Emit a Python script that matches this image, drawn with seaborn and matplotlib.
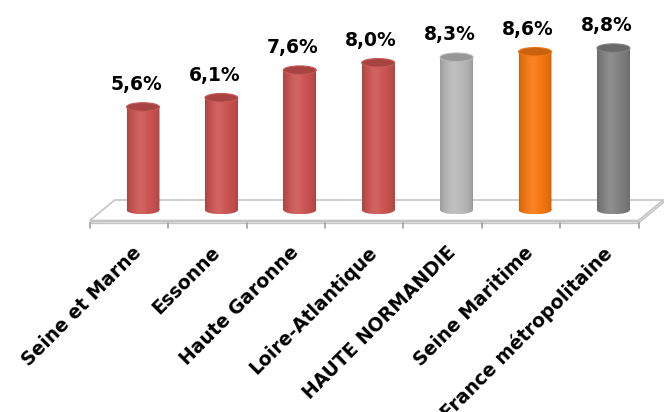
import numpy as np
import pandas as pd
import matplotlib
matplotlib.use("Agg")
import matplotlib.pyplot as plt
import seaborn as sns
from matplotlib.patches import Ellipse, Polygon, PathPatch, Rectangle
from matplotlib.path import Path
from matplotlib.colors import to_rgb

categories = ["Seine et Marne", "Essonne", "Haute Garonne", "Loire-Atlantique",
              "HAUTE NORMANDIE", "Seine Maritime", "France métropolitaine"]
values = [5.6, 6.1, 7.6, 8.0, 8.3, 8.6, 8.8]
value_labels = ["5,6%", "6,1%", "7,6%", "8,0%", "8,3%", "8,6%", "8,8%"]
bar_colors = ["#C4504D", "#C4504D", "#C4504D", "#C4504D", "#B2B2B2", "#EE720E", "#7C7C7C"]

sns.set_theme(style="white")
plt.rcParams["font.family"] = ["DejaVu Sans"]

W, H = 664, 412
fig = plt.figure(figsize=(W / 100, H / 100), dpi=100)
ax = fig.add_axes([0, 0, 1, 1])

df = pd.DataFrame({"cat": categories, "val": values})
sns.barplot(data=df, x="cat", y="val", hue="cat", palette=bar_colors, legend=False,
            width=0.42, saturation=1, edgecolor="none", ax=ax, zorder=2)

# pixel geometry -> data scale
px_x = 78.4          # pixels per category
x0px = 143.0         # pixel x of first bar centre
px_y = 18.4          # pixels per value unit
y0px = 210.0         # pixel y (from top) of value 0
ax.set_xlim(-x0px / px_x, (W - x0px) / px_x)
ax.set_ylim((y0px - H) / px_y, y0px / px_y)
ax.axis("off")

n = len(categories)
d = 14 / px_x              # depth offset of bars from front categories
depth_x = 25 / px_x
fy = (y0px - 220.5) / px_y  # front floor edge
by = (y0px - 200) / px_y    # back floor edge
thick = 2.5 / px_y
fl, fr = -0.5 - d, n - 0.5 - d
bl, br = fl + depth_x, fr + depth_x

edge = "#C4C4C4"
ax.add_patch(Polygon([(fl, fy), (fr, fy), (br, by), (bl, by)], closed=True,
                     facecolor="white", edgecolor=edge, lw=1.2, zorder=1))
ax.add_patch(Polygon([(fl, fy), (fr, fy), (fr, fy - thick), (fl, fy - thick)], closed=True,
                     facecolor="#EBEBEB", edgecolor=edge, lw=1.0, zorder=1))
ax.add_patch(Polygon([(fr, fy), (br, by), (br, by - thick), (fr, fy - thick)], closed=True,
                     facecolor="#EBEBEB", edgecolor=edge, lw=1.0, zorder=1))
for i in range(n + 1):
    xt = i - 0.5 - d
    ax.plot([xt, xt], [fy - thick, fy - thick - 5 / px_y], color="#A0A0A0", lw=1.2, zorder=1)

# cylinders
eh = 8.5 / px_y
t = np.linspace(0, 1, 64)
shade = 0.84 + 0.2 * np.sin(np.pi * t) ** 0.5
hl = 0.10 * np.exp(-((t - 0.4) / 0.2) ** 2)
bars = [p for p in ax.patches if isinstance(p, Rectangle) and p.get_height() > 0]
for p, col in zip(bars, bar_colors):
    base = np.array(to_rgb(col))
    rgb = np.clip(base[None, :] * shade[:, None], 0, 1)
    rgb = rgb * (1 - hl[:, None]) + hl[:, None]
    img = np.concatenate([rgb, np.ones((len(t), 1))], axis=1)[None, :, :]
    x0, w, h = p.get_x(), p.get_width(), p.get_height()
    cx = x0 + w / 2
    rect = Rectangle((x0, 0), w, h)
    ell = Ellipse((cx, 0), w, eh)
    rp = rect.get_path().transformed(rect.get_patch_transform())
    ep = ell.get_path().transformed(ell.get_patch_transform())
    clip = PathPatch(Path.make_compound_path(rp, ep), transform=ax.transData,
                     facecolor="none", edgecolor="none")
    ax.add_patch(clip)
    im = ax.imshow(img, extent=[x0, x0 + w, -eh / 2, h], aspect="auto",
                   interpolation="bilinear", zorder=3)
    im.set_clip_path(clip)
    top = np.clip(base * 0.85, 0, 1)
    ax.add_patch(Ellipse((cx, h), w, eh, facecolor=top,
                         edgecolor=np.clip(base * 0.95 + 0.05, 0, 1), lw=0.8, zorder=4))

for p, lab in zip(bars, value_labels):
    cx = p.get_x() + p.get_width() / 2
    ax.text(cx - 0.09, p.get_height() + 17 / px_y, lab, ha="center", va="baseline",
            fontsize=13.5, fontweight="bold", color="black", zorder=5)

for i, lab in enumerate(categories):
    ax.text(i - 0.14, (y0px - 243) / px_y, lab, rotation=45, rotation_mode="anchor",
            ha="right", va="top", fontsize=13.5, fontweight="bold", color="black")

ax.set_xlim(-x0px / px_x, (W - x0px) / px_x)
ax.set_ylim((y0px - H) / px_y, y0px / px_y)
fig.savefig("out.png", dpi=100)
